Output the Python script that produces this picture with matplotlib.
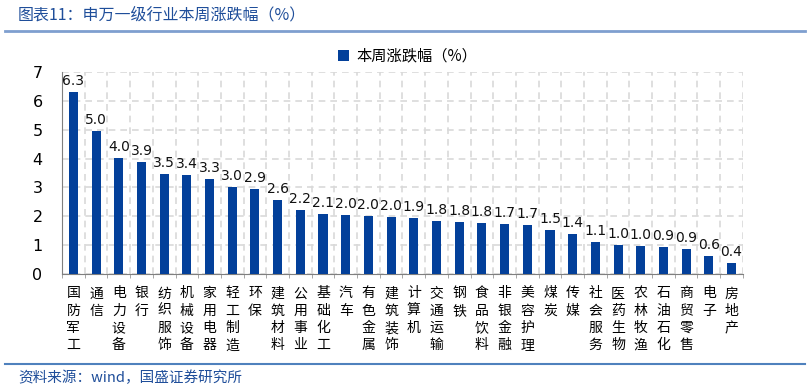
import matplotlib
matplotlib.use("Agg")
import matplotlib.pyplot as plt
import numpy as np
from matplotlib.lines import Line2D

plt.rcParams['font.family'] = ['Noto Sans CJK SC', 'DejaVu Sans']

industries = ["国防军工", "通信", "电力设备", "银行", "纺织服饰", "机械设备", "家用电器",
              "轻工制造", "环保", "建筑材料", "公用事业", "基础化工", "汽车", "有色金属",
              "建筑装饰", "计算机", "交通运输", "钢铁", "食品饮料", "非银金融", "美容护理",
              "煤炭", "传媒", "社会服务", "医药生物", "农林牧渔", "石油石化", "商贸零售",
              "电子", "房地产"]
weekly_change = [6.32, 4.97, 4.03, 3.89, 3.47, 3.42, 3.29, 3.01, 2.94, 2.56, 2.21, 2.07,
                 2.03, 2.00, 1.96, 1.93, 1.83, 1.80, 1.77, 1.74, 1.71, 1.51, 1.38, 1.12,
                 0.99, 0.98, 0.94, 0.88, 0.63, 0.38]
series_name = "本周涨跌幅（%）"
title = "图表11：申万一级行业本周涨跌幅（%）"
source = "资料来源：wind，国盛证券研究所"

bar_color = "#03409A"
text_blue = "#1F4E9A"

fig = plt.figure(figsize=(8.11, 3.88), dpi=100)
ax = fig.add_axes([0.0765, 0.294, 0.8395, 0.520])

x = np.arange(len(industries))
ax.bar(x, weekly_change, width=0.4, color=bar_color, zorder=3, label=series_name)

for xi, v in zip(x, weekly_change):
    ax.text(xi, v + 0.14, "%.1f" % v, ha="center", va="bottom", fontsize=10,
            family="DejaVu Sans", color="#111111", zorder=4)

ax.set_xlim(-0.5, len(industries) - 0.5)
ax.set_ylim(0, 7)
ax.set_yticks(range(0, 8))
ax.set_yticklabels([str(i) for i in range(0, 8)], family="DejaVu Sans", fontsize=11.5)
ax.tick_params(axis="y", length=0, pad=14)

ax.set_xticks(x)
ax.set_xticklabels(["\n".join(s) for s in industries], fontsize=10, linespacing=1.3,
                   va="top")
ax.tick_params(axis="x", length=0, pad=9)
ax.set_xticks(np.arange(-0.5, len(industries), 1), minor=True)
ax.tick_params(axis="x", which="minor", length=3, color="#999999")

ax.grid(axis="y", color="#D9D9D9", linestyle=(0, (4, 3)), linewidth=1.2, zorder=0)
ax.grid(axis="x", which="minor", color="#D9D9D9", linestyle=(0, (4, 3)), linewidth=1.2, zorder=0)
ax.grid(axis="x", which="major", visible=False)

for s in ["top", "right"]:
    ax.spines[s].set_visible(False)
ax.spines["left"].set_color("#7F7F7F")
ax.spines["bottom"].set_color("#7F7F7F")

# legend
ax.legend(loc="upper left", bbox_to_anchor=(0.385, 1.19), frameon=False, fontsize=11,
          handlelength=0.7, handleheight=0.7, handletextpad=0.5)

# title and source
fig.text(18 / 811, 1 - 15 / 388, title, fontsize=11.5, color=text_blue, va="center",
         ha="left", style="italic")
fig.add_artist(Line2D([5 / 811, 805 / 811], [1 - 31 / 388, 1 - 31 / 388],
                      color="#7F9FCF", linewidth=2))
fig.add_artist(Line2D([5 / 811, 805 / 811], [1 - 364 / 388, 1 - 364 / 388],
                      color="#4F81BD", linewidth=1.5))
fig.text(18 / 811, 1 - 378 / 388, source, fontsize=10.5, color=text_blue, va="center",
         ha="left", style="italic")

fig.savefig("out.png", dpi=100)
